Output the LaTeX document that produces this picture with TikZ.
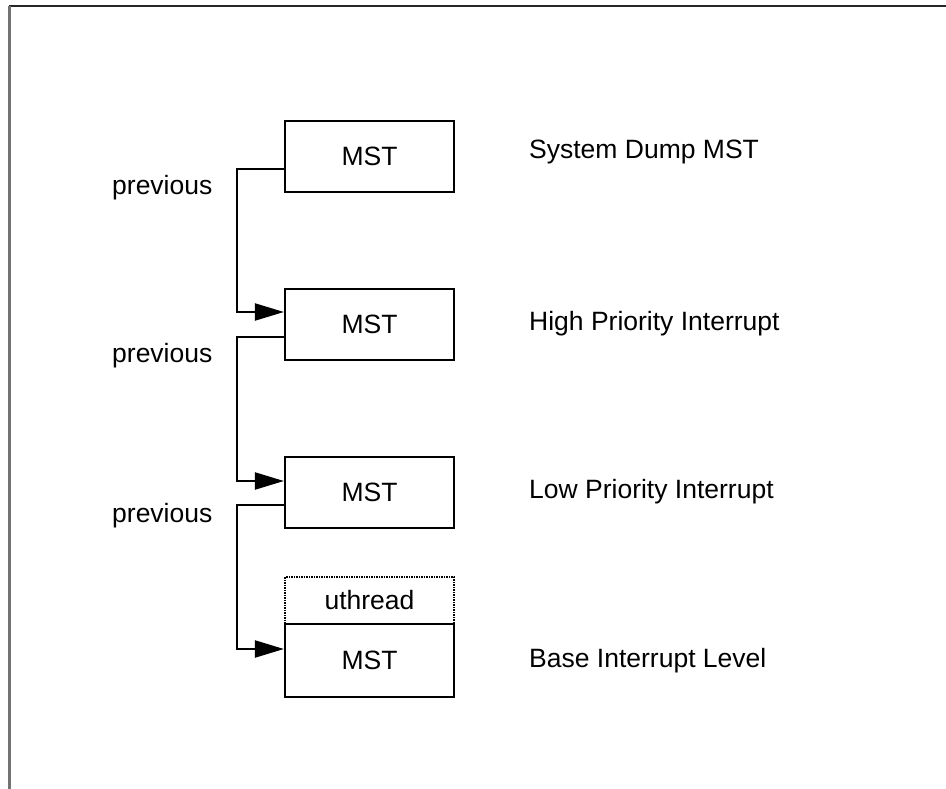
\documentclass[tikz,border=0pt]{standalone}
\usepackage{fontspec}
\setmainfont{Liberation Sans}
\usetikzlibrary{arrows.meta}
\begin{document}
\begin{tikzpicture}[x=1pt,y=-1pt,
  every node/.style={font=\fontsize{26.5}{31}\selectfont},
  mstbox/.style={draw, line width=2.2pt, minimum width=169pt, minimum height=71pt, inner sep=0pt},
  threadbox/.style={draw, line width=1.5pt, dash pattern=on 1.5pt off 1pt, minimum width=169pt, minimum height=47pt, inner sep=0pt},
  lbl/.style={anchor=base west, inner sep=0pt},
  link/.style={line width=2.2pt, -{Triangle[length=29pt,width=17pt]}}]
\useasboundingbox (0,0) rectangle (946,789);

% page frame (top and left edges)
\draw[line width=2.5pt, black!85] (9,6) -- (946,6);
\draw[line width=3pt, black!55] (9,6) -- (9,789);

% stack of MSTs
\node[mstbox] (m1) at (369.5,156.5) {MST};
\node[mstbox] (m2) at (369.5,324.5) {MST};
\node[mstbox] (m3) at (369.5,492.5) {MST};
\node[threadbox] (ut) at (369.5,600.5) {uthread};
\node[mstbox, minimum height=73pt] (m4) at (369.5,660.5) {MST};

% level names
\node[lbl] (l1) at (529,159) {System Dump MST};
\node[lbl] (l2) at (529,330) {High Priority Interrupt};
\node[lbl] (l3) at (529,498) {Low Priority Interrupt};
\node[lbl] (l4) at (529,667) {Base Interrupt Level};

% previous pointers
\node[lbl] (p1) at (112,195) {previous};
\node[lbl] (p2) at (112,362) {previous};
\node[lbl] (p3) at (112,522) {previous};

\draw[link] ([yshift=-12.5pt]m1.west) -- ++(-47,0) |- ([yshift=12.5pt]m2.west);
\draw[link] ([yshift=-12.5pt]m2.west) -- ++(-47,0) |- ([yshift=11.5pt]m3.west);
\draw[link] ([yshift=-12.5pt]m3.west) -- ++(-47,0) |- ([yshift=11.5pt]m4.west);
\end{tikzpicture}
\end{document}
